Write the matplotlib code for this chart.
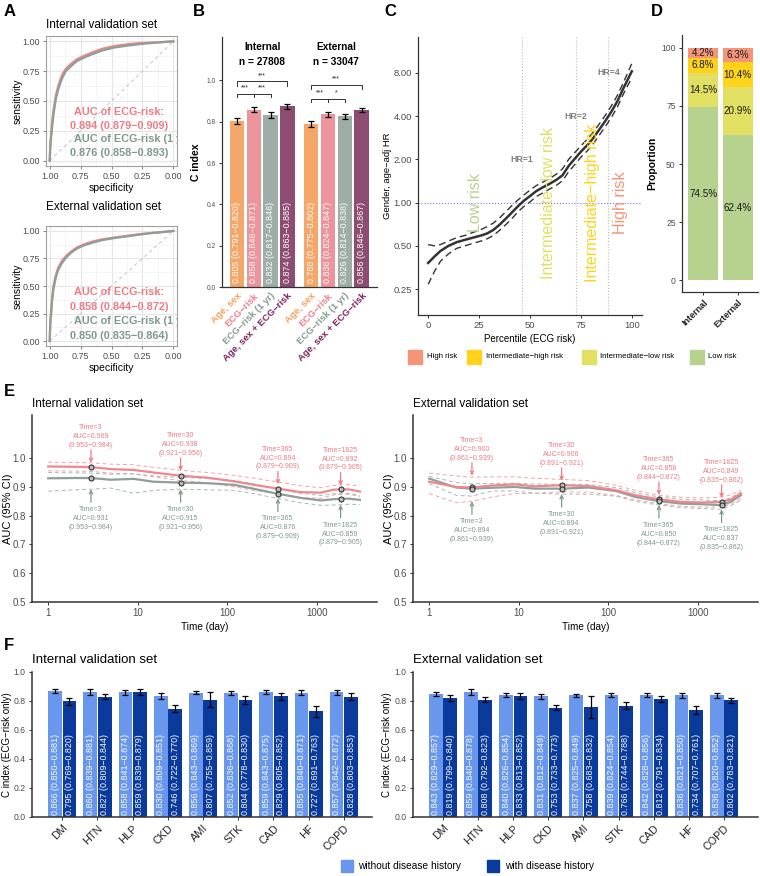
import matplotlib
matplotlib.use('Agg')
import matplotlib.pyplot as plt
from matplotlib.patches import Rectangle
from matplotlib.ticker import NullLocator

plt.rcParams['font.family'] = ['Liberation Sans', 'DejaVu Sans']

W, H = 760, 876

# ---------------- data ----------------
# A: ROC curves (x = specificity, y = sensitivity)
ROC_SPEC = [1.00, 0.995, 0.98, 0.97, 0.95, 0.93, 0.90, 0.87, 0.83, 0.78, 0.72,
            0.65, 0.57, 0.48, 0.38, 0.28, 0.18, 0.08, 0.00]
ROC_INT_ECG = [0.00, 0.15, 0.33, 0.42, 0.55, 0.63, 0.72, 0.77, 0.81, 0.85, 0.88,
               0.91, 0.94, 0.96, 0.975, 0.985, 0.99, 0.995, 1.0]
ROC_INT_1YR = [0.00, 0.12, 0.29, 0.38, 0.52, 0.60, 0.69, 0.75, 0.79, 0.835, 0.865,
               0.895, 0.925, 0.948, 0.963, 0.976, 0.986, 0.994, 1.0]
ROC_EXT_ECG = [0.00, 0.18, 0.40, 0.50, 0.60, 0.67, 0.73, 0.77, 0.81, 0.85, 0.88,
               0.905, 0.925, 0.94, 0.955, 0.97, 0.982, 0.992, 1.0]
ROC_EXT_1YR = [0.00, 0.16, 0.37, 0.47, 0.58, 0.65, 0.71, 0.755, 0.80, 0.84, 0.87,
               0.895, 0.918, 0.935, 0.95, 0.966, 0.98, 0.99, 1.0]
AUC_INT = ['AUC of ECG-risk:', '0.894 (0.879\u22120.909)',
           'AUC of ECG-risk (1 yr)', '0.876 (0.858\u22120.893)']
AUC_EXT = ['AUC of ECG-risk:', '0.858 (0.844\u22120.872)',
           'AUC of ECG-risk (1 yr)', '0.850 (0.835\u22120.864)']

# B: C index by model
B_MODELS = ['Age, sex', 'ECG\u2212risk', 'ECG\u2212risk (1 yr)', 'Age, sex + ECG\u2212risk']
B_INT = [0.805, 0.858, 0.832, 0.874]
B_INT_LO = [0.791, 0.846, 0.817, 0.863]
B_INT_HI = [0.820, 0.871, 0.846, 0.885]
B_EXT = [0.788, 0.836, 0.826, 0.856]
B_EXT_LO = [0.775, 0.824, 0.814, 0.846]
B_EXT_HI = [0.802, 0.847, 0.838, 0.867]
B_N = [27808, 33047]
B_SIG_INT = [(0, 3, '***'), (0, 1, '***'), (1, 2, '***')]
B_SIG_EXT = [(0, 3, '***'), (0, 1, '***'), (1, 2, '*')]

# C: HR by percentile of ECG risk
C_PCT = [0, 3, 6, 10, 14, 18, 22, 26, 29, 32, 35, 38, 41, 44, 47, 50, 53, 56,
         60, 63, 66, 69, 72, 75, 78, 81, 84, 87, 90, 93, 96, 100]
C_HR = [0.38, 0.42, 0.46, 0.50, 0.53, 0.55, 0.57, 0.59, 0.61, 0.645, 0.70, 0.77,
        0.85, 0.94, 1.03, 1.11, 1.20, 1.27, 1.36, 1.44, 1.55, 1.80, 2.02, 2.26,
        2.50, 2.80, 3.22, 3.70, 4.30, 5.10, 6.30, 8.20]
C_HR_HI = [0.51, 0.50, 0.51, 0.54, 0.57, 0.59, 0.62, 0.65, 0.68, 0.72, 0.78, 0.86,
           0.95, 1.04, 1.13, 1.22, 1.31, 1.38, 1.48, 1.58, 1.72, 2.00, 2.23, 2.48,
           2.75, 3.08, 3.52, 4.05, 4.72, 5.60, 6.90, 9.30]
C_HR_LO = [0.27, 0.33, 0.39, 0.44, 0.48, 0.50, 0.52, 0.54, 0.56, 0.59, 0.64, 0.70,
           0.77, 0.86, 0.94, 1.01, 1.10, 1.16, 1.25, 1.32, 1.42, 1.64, 1.84, 2.07,
           2.28, 2.56, 2.94, 3.38, 3.92, 4.65, 5.75, 7.40]
C_CUTS = [46, 72.5, 88.5]
C_CUT_HR = [1, 2, 4]
RISK_NAMES = ['Low risk', 'Intermediate\u2212low risk', 'Intermediate\u2212high risk', 'High risk']
RISK_COLORS = ['#B6D28E', '#E2E063', '#FFD31C', '#F4957A']

# D: proportion of risk groups
D_SETS = ['Internal', 'External']
D_PROP = {'Internal': [74.5, 14.5, 6.8, 4.2], 'External': [62.4, 20.9, 10.4, 6.3]}

# E: time-dependent AUC
E_TIME = [1, 2, 3, 5, 9, 15, 30, 60, 120, 200, 365, 650, 1100, 1500, 1825, 2300, 3000]
E_INT_P = [0.971, 0.970, 0.969, 0.962, 0.959, 0.950, 0.939, 0.932, 0.919, 0.907, 0.894,
           0.882, 0.880, 0.890, 0.892, 0.891, 0.884]
E_INT_P_HI = [0.986, 0.985, 0.984, 0.979, 0.977, 0.968, 0.958, 0.950, 0.940, 0.930, 0.917,
              0.904, 0.897, 0.905, 0.907, 0.908, 0.902]
E_INT_P_LO = [0.956, 0.955, 0.954, 0.948, 0.945, 0.935, 0.922, 0.915, 0.900, 0.888, 0.876,
              0.863, 0.860, 0.872, 0.874, 0.875, 0.866]
E_INT_G = [0.930, 0.931, 0.931, 0.925, 0.928, 0.918, 0.915, 0.913, 0.907, 0.893, 0.876,
           0.862, 0.853, 0.857, 0.859, 0.859, 0.855]
E_INT_G_HI = [0.950, 0.949, 0.948, 0.944, 0.946, 0.938, 0.933, 0.930, 0.922, 0.910, 0.893,
              0.878, 0.870, 0.876, 0.878, 0.877, 0.870]
E_INT_G_LO = [0.885, 0.890, 0.892, 0.896, 0.878, 0.888, 0.892, 0.890, 0.888, 0.876, 0.860,
              0.845, 0.836, 0.837, 0.838, 0.840, 0.838]
E_EXT_P = [0.918, 0.900, 0.898, 0.905, 0.909, 0.902, 0.906, 0.903, 0.889, 0.871, 0.857,
           0.848, 0.846, 0.847, 0.849, 0.856, 0.877]
E_EXT_P_HI = [0.948, 0.938, 0.934, 0.935, 0.935, 0.930, 0.926, 0.922, 0.906, 0.888, 0.871,
              0.864, 0.862, 0.863, 0.865, 0.872, 0.890]
E_EXT_P_LO = [0.877, 0.845, 0.850, 0.865, 0.877, 0.878, 0.883, 0.882, 0.871, 0.855, 0.842,
              0.833, 0.830, 0.830, 0.831, 0.840, 0.860]
E_EXT_G = [0.929, 0.898, 0.894, 0.897, 0.900, 0.894, 0.894, 0.898, 0.886, 0.865, 0.851,
           0.842, 0.840, 0.838, 0.837, 0.848, 0.871]
E_EXT_G_HI = [0.937, 0.915, 0.911, 0.912, 0.913, 0.910, 0.909, 0.908, 0.898, 0.880, 0.865,
              0.857, 0.855, 0.853, 0.852, 0.862, 0.883]
E_EXT_G_LO = [0.911, 0.871, 0.868, 0.886, 0.886, 0.878, 0.875, 0.875, 0.868, 0.850, 0.837,
              0.828, 0.825, 0.823, 0.822, 0.835, 0.854]
E_MARK_T = [3, 30, 365, 1825]
E_INT_P_AUC = [0.969, 0.938, 0.894, 0.892]
E_INT_G_AUC = [0.931, 0.915, 0.876, 0.859]
E_INT_CI = [(0.953, 0.984), (0.921, 0.956), (0.879, 0.909), (0.879, 0.905)]
E_EXT_P_AUC = [0.900, 0.906, 0.858, 0.849]
E_EXT_G_AUC = [0.894, 0.894, 0.850, 0.837]
E_EXT_CI = [(0.861, 0.939), (0.891, 0.921), (0.844, 0.872), (0.835, 0.862)]

# F: C index by disease history
F_DIS = ['DM', 'HTN', 'HLP', 'CKD', 'AMI', 'STK', 'CAD', 'HF', 'COPD']
F_INT_NO = [0.866, 0.860, 0.858, 0.830, 0.856, 0.852, 0.859, 0.855, 0.857]
F_INT_NO_LO = [0.850, 0.839, 0.841, 0.809, 0.843, 0.836, 0.843, 0.840, 0.842]
F_INT_NO_HI = [0.881, 0.881, 0.874, 0.851, 0.869, 0.868, 0.875, 0.871, 0.872]
F_INT_YES = [0.795, 0.827, 0.859, 0.746, 0.807, 0.804, 0.829, 0.727, 0.828]
F_INT_YES_LO = [0.769, 0.809, 0.839, 0.722, 0.755, 0.778, 0.805, 0.691, 0.803]
F_INT_YES_HI = [0.820, 0.844, 0.879, 0.770, 0.859, 0.830, 0.852, 0.763, 0.853]
F_EXT_NO = [0.843, 0.859, 0.840, 0.831, 0.837, 0.839, 0.842, 0.836, 0.836]
F_EXT_NO_LO = [0.829, 0.840, 0.826, 0.812, 0.825, 0.824, 0.828, 0.821, 0.820]
F_EXT_NO_HI = [0.857, 0.878, 0.854, 0.849, 0.849, 0.854, 0.856, 0.850, 0.852]
F_EXT_YES = [0.819, 0.808, 0.833, 0.753, 0.758, 0.766, 0.812, 0.734, 0.802]
F_EXT_YES_LO = [0.799, 0.792, 0.813, 0.733, 0.683, 0.744, 0.791, 0.707, 0.783]
F_EXT_YES_HI = [0.840, 0.823, 0.852, 0.773, 0.832, 0.788, 0.834, 0.761, 0.821]

# ---------------- style ----------------
PINK_TXT = '#EE7B85'
GREEN_TXT = '#7F988D'
PINK_LINE = '#F0868E'
GREY_LINE = '#8D9F97'
PINK_CI = '#F4A3A9'
GREY_CI = '#A9B6B0'
B_COLORS = ['#F5A76A', '#EC939B', '#9EAEA7', '#8D4C72']
B_TXT_COLORS = ['#F7A05C', '#EE7F8A', '#849A90', '#7B2160']
F_COLORS = ['#6A97EE', '#0A3A9C']
TICK_C = '#4D4D4D'

fig = plt.figure(figsize=(W / 100, H / 100), dpi=100)


def add_ax(x0, y0, x1, y1):
    return fig.add_axes([x0 / W, 1 - y1 / H, (x1 - x0) / W, (y1 - y0) / H])


def ftext(x, y, s, **kw):
    fig.text(x / W, 1 - y / H, s, **kw)


def classic(ax, size=6.5, lw=0.9):
    for s in ['top', 'right']:
        ax.spines[s].set_visible(False)
    for s in ['left', 'bottom']:
        ax.spines[s].set_color('#333333')
        ax.spines[s].set_linewidth(lw)
    ax.tick_params(colors='#333333', labelcolor=TICK_C, labelsize=size,
                   length=2.5, width=0.7, pad=2)


# ---------------- A ----------------
def roc_panel(ax, s_ecg, s_1yr, texts, ypos, title, title_y):
    ax.plot([1, 0], [0, 1], ls=(0, (4, 4)), color='#BBBBBB', lw=0.6)
    ax.plot(ROC_SPEC, s_ecg, color=PINK_LINE, lw=1.6)
    ax.plot(ROC_SPEC, s_1yr, color=GREY_LINE, lw=1.6)
    ax.set_xlim(1.03, -0.03)
    ax.set_ylim(-0.045, 1.045)
    ticks = [1, 0.75, 0.5, 0.25, 0]
    ax.set_xticks(ticks)
    ax.set_xticklabels(['%.2f' % t for t in ticks])
    ax.set_yticks(ticks)
    ax.set_yticklabels(['%.2f' % t for t in ticks])
    ax.set_xticks([0.875, 0.625, 0.375, 0.125], minor=True)
    ax.set_yticks([0.875, 0.625, 0.375, 0.125], minor=True)
    ax.grid(which='major', color='#E6E6E6', lw=0.8)
    ax.grid(which='minor', color='#F2F2F2', lw=0.5)
    ax.set_axisbelow(True)
    ax.tick_params(which='minor', length=0)
    ax.tick_params(colors='#888888', labelcolor=TICK_C, labelsize=6.5, length=2.5, pad=2)
    for s in ax.spines.values():
        s.set_color('#A0A0A0')
        s.set_linewidth(0.8)
    ax.set_xlabel('specificity', fontsize=7.5, labelpad=1)
    ax.set_ylabel('sensitivity', fontsize=7.5, labelpad=0)
    cols = [PINK_TXT, PINK_TXT, GREEN_TXT, GREEN_TXT]
    for i, (t, y, c) in enumerate(zip(texts, ypos, cols)):
        if i == 2:
            # long line starts where the first line starts and runs past the frame
            ax.text(0.805, y, t, color=c, fontsize=7.8, fontweight='bold',
                    ha='left', va='center', clip_on=True)
        else:
            ax.text(0.44, y, t, color=c, fontsize=7.8, fontweight='bold',
                    ha='center', va='center', clip_on=True)
    ftext(46, title_y, title, fontsize=8.5, va='center')


axA1 = add_ax(46, 36, 177, 166)
roc_panel(axA1, ROC_INT_ECG, ROC_INT_1YR, AUC_INT, [0.41, 0.29, 0.18, 0.065],
          'Internal validation set', 25)
axA2 = add_ax(46, 226, 177, 346)
roc_panel(axA2, ROC_EXT_ECG, ROC_EXT_1YR, AUC_EXT, [0.445, 0.31, 0.18, 0.05],
          'External validation set', 207)

# ---------------- B ----------------
axB = add_ax(222, 37, 377, 287)
classic(axB, size=4.8, lw=0.9)
groups = [(B_INT, B_INT_LO, B_INT_HI, 0.0, 'Internal', B_N[0], B_SIG_INT),
          (B_EXT, B_EXT_LO, B_EXT_HI, 4.4, 'External', B_N[1], B_SIG_EXT)]
all_pos = []
for vals, lo, hi, x0, name, n, sig in groups:
    pos = [x0 + i for i in range(len(vals))]
    all_pos += pos
    axB.bar(pos, vals, width=0.85, color=B_COLORS)
    axB.errorbar(pos, vals, yerr=[[v - l for v, l in zip(vals, lo)],
                                  [h - v for v, h in zip(vals, hi)]],
                 fmt='none', ecolor='black', elinewidth=0.9, capsize=2.2, capthick=0.9)
    for p, v, l, h in zip(pos, vals, lo, hi):
        axB.text(p, 0.018, '%.3f (%.3f\u2212%.3f)' % (v, l, h), rotation=90,
                 ha='center', va='bottom', color='white', fontsize=6.4)
    top = max(hi) + 0.11
    low = max(hi[:3]) + 0.065
    for a, b, lab in sig:
        y = top if (a, b) == (0, 3) else low
        tip = 0.02 if (a, b) == (0, 3) else 0.018
        xa, xb = pos[a], pos[b]
        axB.plot([xa, xa, xb, xb], [y - tip, y, y, y - tip], color='#333333', lw=0.7)
        axB.text((xa + xb) / 2, y + 0.012, lab, ha='center', va='bottom', fontsize=5,
                 color='#222222')
    cx = (pos[0] + pos[-1]) / 2
    axB.text(cx, 1.16, name, ha='center', va='center', fontsize=7.3, fontweight='bold')
    axB.text(cx, 1.09, 'n = %d' % n, ha='center', va='center', fontsize=7.3,
             fontweight='bold')
axB.set_xlim(-0.88, 8.31)
axB.set_ylim(0, 1.21)
axB.set_yticks([0, 0.2, 0.4, 0.6, 0.8, 1.0])
axB.set_yticklabels(['0.0', '0.2', '0.4', '0.6', '0.8', '1.0'])
axB.set_xticks(all_pos)
axB.set_xticklabels(B_MODELS * 2, rotation=45, ha='right', rotation_mode='anchor',
                    fontsize=6.8, fontweight='bold')
for lab, c in zip(axB.get_xticklabels(), B_TXT_COLORS * 2):
    lab.set_color(c)
axB.tick_params(axis='x', length=0, pad=3)
axB.set_ylabel('C index', fontsize=7.5, fontweight='bold', labelpad=4)

# ---------------- C ----------------
axC = add_ax(418, 37, 642, 315)
classic(axC, size=6.8)
axC.set_yscale('log', base=2)
for c in C_CUTS:
    axC.axvline(c, color='#BBBBBB', ls=':', lw=0.8)
axC.axhline(1, color='#7777EE', ls=':', lw=0.8)
axC.plot(C_PCT, C_HR_HI, color='#333333', ls=(0, (5, 3)), lw=1.0)
axC.plot(C_PCT, C_HR_LO, color='#333333', ls=(0, (5, 3)), lw=1.0)
axC.plot(C_PCT, C_HR, color='#333333', lw=1.8)
edges = [0] + C_CUTS + [100]
for i, (name, col) in enumerate(zip(RISK_NAMES, RISK_COLORS)):
    axC.text((edges[i] + edges[i + 1]) / 2, 1.0, name, rotation=90, color=col,
             fontsize=11.5, ha='center', va='center')
for c, hr in zip(C_CUTS, C_CUT_HR):
    axC.text(c, hr * 2, 'HR=%d' % hr, color='#808080', fontsize=6.3, fontweight='bold',
             ha='center', va='center')
axC.set_xlim(-5, 105)
axC.set_ylim(0.165, 14.2)
axC.set_yticks([0.25, 0.5, 1, 2, 4, 8])
axC.set_yticklabels(['0.25', '0.50', '1.00', '2.00', '4.00', '8.00'])
axC.yaxis.set_minor_locator(NullLocator())
axC.set_xticks([0, 25, 50, 75, 100])
axC.set_xlabel('Percentile (ECG risk)', fontsize=7, labelpad=3)
axC.set_ylabel('Gender, age\u2212adj HR', fontsize=6.8, labelpad=1)

# legend for C/D
leg_x = [408, 467, 582, 690]
for x, name, col in zip(leg_x, RISK_NAMES[::-1], RISK_COLORS[::-1]):
    fig.patches.append(Rectangle((x / W, 1 - 363.5 / H), 13.5 / W, 13.5 / H,
                                 transform=fig.transFigure, color=col))
    ftext(x + 18.5, 357, name, fontsize=5.6, va='center')

# ---------------- D ----------------
axD = add_ax(682, 35, 758, 292)
classic(axD, size=6.2)
for i, s in enumerate(D_SETS):
    bottom = 0
    for v, col in zip(D_PROP[s], RISK_COLORS):
        axD.bar(i + 1, v, bottom=bottom, width=0.87, color=col)
        axD.text(i + 1, bottom + v / 2, '%.1f%%' % v, ha='center', va='center',
                 fontsize=7.1, color='#1A1A1A')
        bottom += v
axD.set_xlim(0.39, 2.59)
axD.set_ylim(-5, 105.5)
axD.set_yticks([0, 25, 50, 75, 100])
axD.set_xticks([1, 2])
axD.set_xticklabels(D_SETS, rotation=45, ha='right', rotation_mode='anchor',
                    fontsize=6.5, fontweight='bold', color='#222222')
axD.set_ylabel('Proportion', fontsize=7.5, fontweight='bold', labelpad=3)


# ---------------- E ----------------
def auc_panel(ax, p, p_hi, p_lo, g, g_hi, g_lo, p_auc, g_auc, ci, title):
    classic(ax, size=7, lw=1.1)
    dash = (0, (4, 3))
    for arr in (p_hi, p_lo):
        ax.plot(E_TIME, arr, color=PINK_CI, lw=0.7, ls=dash)
    for arr in (g_hi, g_lo):
        ax.plot(E_TIME, arr, color=GREY_CI, lw=0.7, ls=dash)
    ax.plot(E_TIME, g, color=GREY_LINE, lw=1.6)
    ax.plot(E_TIME, p, color=PINK_LINE, lw=1.6)
    ax.set_xscale('log')
    for t, pa, ga, (l, h) in zip(E_MARK_T, p_auc, g_auc, ci):
        k = E_TIME.index(t)
        ax.plot([t, t], [pa, ga], ls='none', marker='o', ms=3.6, mfc='#BBBBBB',
                mec='#333333', mew=0.8, zorder=5)
        ax.annotate('', xy=(t, h), xytext=(0, 13), textcoords='offset pixels',
                    arrowprops=dict(arrowstyle='->', color=PINK_TXT, lw=0.9,
                                    shrinkA=0, shrinkB=0, mutation_scale=6))
        ax.annotate('Time=%d\nAUC=%.3f\n(%.3f\u2212%.3f)' % (t, pa, l, h), xy=(t, h),
                    xytext=(0, 14), textcoords='offset pixels', ha='center',
                    va='bottom', fontsize=5, color=PINK_TXT, linespacing=1.35)
        g_tip = min(p_lo[k], g_lo[k])
        ax.annotate('', xy=(t, g_tip), xytext=(0, -13), textcoords='offset pixels',
                    arrowprops=dict(arrowstyle='->', color=GREEN_TXT, lw=0.9,
                                    shrinkA=0, shrinkB=0, mutation_scale=6))
        ax.annotate('Time=%d\nAUC=%.3f\n(%.3f\u2212%.3f)' % (t, ga, l, h), xy=(t, g_tip),
                    xytext=(0, -17), textcoords='offset pixels', ha='center',
                    va='top', fontsize=5, color=GREEN_TXT, linespacing=1.35)
    ax.set_xlim(0.66, 4650)
    ax.set_ylim(0.5, 1.15)
    ax.set_xticks([1, 10, 100, 1000])
    ax.set_xticklabels(['1', '10', '100', '1000'])
    ax.xaxis.set_minor_locator(NullLocator())
    ax.set_yticks([0.5, 0.6, 0.7, 0.8, 0.9, 1.0])
    ax.set_yticklabels(['0.5', '0.6', '0.7', '0.8', '0.9', '1.0'])
    ax.set_xlabel('Time (day)', fontsize=7.2, labelpad=3)
    ax.set_ylabel('AUC (95% CI)', fontsize=8)
    ax.yaxis.set_label_coords(-0.056, 0.5)
    bb = ax.get_position()
    fig.text(bb.x0, 1 - 404 / H, title, fontsize=8.5, va='center')


axE1 = add_ax(32, 415, 377, 602)
auc_panel(axE1, E_INT_P, E_INT_P_HI, E_INT_P_LO, E_INT_G, E_INT_G_HI, E_INT_G_LO,
          E_INT_P_AUC, E_INT_G_AUC, E_INT_CI, 'Internal validation set')
axE2 = add_ax(413, 415, 758, 602)
auc_panel(axE2, E_EXT_P, E_EXT_P_HI, E_EXT_P_LO, E_EXT_G, E_EXT_G_HI, E_EXT_G_LO,
          E_EXT_P_AUC, E_EXT_G_AUC, E_EXT_CI, 'External validation set')


# ---------------- F ----------------
def disease_panel(ax, no, no_lo, no_hi, yes, yes_lo, yes_hi, title, xlim):
    classic(ax, size=6.2, lw=1.1)
    x = list(range(len(F_DIS)))
    for off, vals, lo, hi, col in [(-0.205, no, no_lo, no_hi, F_COLORS[0]),
                                   (0.205, yes, yes_lo, yes_hi, F_COLORS[1])]:
        pos = [i + off for i in x]
        ax.bar(pos, vals, width=0.39, color=col)
        ax.errorbar(pos, vals, yerr=[[v - l for v, l in zip(vals, lo)],
                                     [h - v for v, h in zip(vals, hi)]],
                    fmt='none', ecolor='black', elinewidth=0.9, capsize=2.3, capthick=0.9)
        for p, v, l, h in zip(pos, vals, lo, hi):
            ax.text(p, 0.012, '%.3f (%.3f\u2212%.3f)' % (v, l, h), rotation=90,
                    ha='center', va='bottom', color='white', fontsize=6.4)
    ax.set_xlim(*xlim)
    ax.set_ylim(0, 1.0)
    ax.set_yticks([0, 0.2, 0.4, 0.6, 0.8, 1.0])
    ax.set_yticklabels(['0.0', '0.2', '0.4', '0.6', '0.8', '1.0'])
    ax.set_xticks(x)
    ax.set_xticklabels(F_DIS, rotation=45, ha='right', rotation_mode='anchor',
                       fontsize=7.8, color='#222222')
    ax.set_ylabel('C index (ECG\u2212risk only)', fontsize=7)
    ax.yaxis.set_label_coords(-0.06, 0.5)
    bb = ax.get_position()
    fig.text(bb.x0, 1 - 660 / H, title, fontsize=9.5, va='center')


axF1 = add_ax(32, 671.7, 372, 816.7)
disease_panel(axF1, F_INT_NO, F_INT_NO_LO, F_INT_NO_HI, F_INT_YES, F_INT_YES_LO,
              F_INT_YES_HI, 'Internal validation set', (-0.86, 8.8))
axF2 = add_ax(413, 671.7, 758, 816.7)
disease_panel(axF2, F_EXT_NO, F_EXT_NO_LO, F_EXT_NO_HI, F_EXT_YES, F_EXT_YES_LO,
              F_EXT_YES_HI, 'External validation set', (-0.855, 8.97))

for x, name, col in [(341, 'without disease history', F_COLORS[0]),
                     (487.3, 'with disease history', F_COLORS[1])]:
    fig.patches.append(Rectangle((x / W, 1 - 872 / H), 11.7 / W, 11.7 / H,
                                 transform=fig.transFigure, color=col))
    ftext(x + 17.5, 866, name, fontsize=7.3, va='center')

# panel letters
for lab, x, y in [('A', 4, 11), ('B', 193, 11), ('C', 384, 11), ('D', 651, 11),
                  ('E', 4, 391), ('F', 4, 646)]:
    ftext(x, y, lab, fontsize=12, fontweight='bold', va='center')

fig.savefig('out.png', dpi=100)
